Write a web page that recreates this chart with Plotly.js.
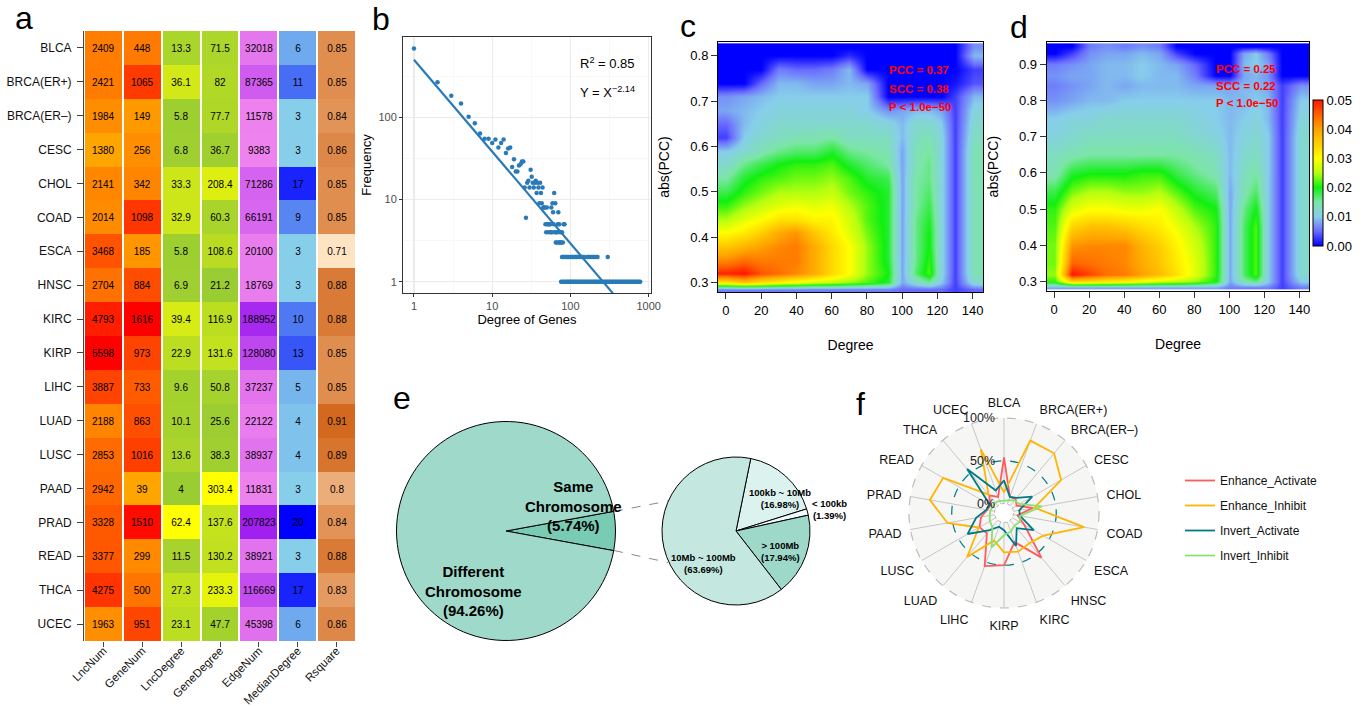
<!DOCTYPE html>
<html><head><meta charset="utf-8">
<script src="https://cdn.plot.ly/plotly-3.0.1.min.js"></script>
<style>html,body{margin:0;padding:0;background:#fff}#chart{width:1369px;height:706px}</style>
</head><body><div id="chart"></div>
<script>
const W = 1369, H = 706;
const X = p => p / W, Y = p => 1 - p / H;
const FONT = 'Liberation Sans, Arial, Helvetica, sans-serif';

// ---------- panel a data ----------
const cancers = ['BLCA','BRCA(ER+)','BRCA(ER–)','CESC','CHOL','COAD','ESCA','HNSC','KIRC','KIRP','LIHC','LUAD','LUSC','PAAD','PRAD','READ','THCA','UCEC'];
const heatCols = ['LncNum','GeneNum','LncDegree','GeneDegree','EdgeNum','MedianDegree','Rsquare'];
const LncNum = [2409,2421,1984,1380,2141,2014,3468,2704,4793,5598,3887,2188,2853,2942,3328,3377,4275,1963];
const GeneNum = [448,1065,149,256,342,1098,185,884,1616,973,733,863,1016,39,1510,299,500,951];
const LncDegree = [13.3,36.1,5.8,6.8,33.3,32.9,5.8,6.9,39.4,22.9,9.6,10.1,13.6,4,62.4,11.5,27.3,23.1];
const GeneDegree = [71.5,82,77.7,36.7,208.4,60.3,108.6,21.2,116.9,131.6,50.8,25.6,38.3,303.4,137.6,130.2,233.3,47.7];
const EdgeNum = [32018,87365,11578,9383,71286,66191,20100,18769,188952,128080,37237,22122,38937,11831,207823,38921,116669,45398];
const MedianDegree = [6,11,3,3,17,9,3,3,10,13,5,4,4,3,20,3,17,6];
const Rsquare = [0.85,0.85,0.84,0.86,0.85,0.85,0.71,0.88,0.88,0.85,0.85,0.91,0.89,0.8,0.84,0.88,0.83,0.86];
const heatScales = [['#FFA500','#FF0000'],['#FFA500','#FF0000'],['#9ACD32','#FFFF00'],['#9ACD32','#FFFF00'],['#EE82EE','#A020F0'],['#87CEEB','#0000FF'],['#FFE4C4','#D2691E']];

// ---------- panel b data ----------
const degMain = [1,2,3,4,5,6,7,8,9,10,11,12,13,14,15,16,17,18,19,20,21,22,23,24,25,26,27,28,29,30,31,32,33,34,35,36,37,38,39,40,41,42,43,44,45,46,47,48,49,50,51,52,53,54,55,56,57,58,59,60,61,62,63,64,65,66,67,68,69,70,71,72,73,74,75,76,78,80,82,84];
const freqMain = [690,268,184,148,102,85,64,55,55,49,54,43,49,54,37,42,43,25,31,22,22,26,27,29,29,14,6,16,17,14,23,19,16,14,16,17,12,16,14,9,16,12,9,14,8,8,8,5,4,8,5,5,4,5,5,4,8,4,9,7,5,12,4,9,3,4,3,4,5,7,3,5,3,4,3,3,4,3,5,5];
const degFreq2 = [78,81,85,88,92,95,99,103,107,111,116,121,126,131,137,143,150,165,172,180,190,200,212,222,300];
const degFreq1 = [76,79,83,86,90,93,97,100,104,108,112,116,120,125,130,135,140,146,151,157,163,170,176,183,190,198,205,213,222,230,239,249,258,268,279,290,301,313,325,338,351,365,379,394,409,425,442,459,477,496,515,535,556,578,600,624,648,673,700,727,755,780];
const fitX = [1, 350];
const fitY = [505, 0.72];

// ---------- panel c / d density (units of 0.001) ----------
const denX = [0,10,20,30,40,50,60,70,80,92,100,108,115,122,130,141];
const cY = [0.285,0.30,0.32,0.35,0.38,0.41,0.44,0.47,0.50,0.53,0.56,0.59,0.62,0.65,0.68,0.71,0.74,0.77,0.80,0.818];
const cZ = [
 [6,6,6,6,6,6,6,6,6,6,5,5,5,5,3,5],
 [32,36,33,31,29,27,26,24,22,19,8,12,15,10,3,12],
 [49,50,46,44,42,39,34,30,24,20,8,17,22,11,3,14],
 [42,44,43,43,43,39,34,30,24,19,8,16,21,11,3,14],
 [36,38,40,42,43,39,34,30,24,19,8,16,20,11,3,14],
 [30,32,35,39,41,36,32,28,23,19,8,16,20,11,3,14],
 [25,28,30,33,33,31,31,27,22,19,8,16,19,11,3,14],
 [21,24,26,28,29,28,29,25,22,19,8,15,18,11,3,14],
 [18,21,23,25,25,25,26,23,21,19,8,15,17,11,3,14],
 [15,19,21,22,23,23,24,22,19,18,8,15,16,11,3,14],
 [12,16,18,20,21,21,22,19,17,15,8,14,16,11,3,14],
 [10,12,14,16,17,17,19,16,15,14,8,14,15,11,3,14],
 [3,10,12,13,14,14,15,13,13,13,9,13,14,11,3,13],
 [5,9,11,12,12,12,12,12,12,11,9,12,12,10,3,12],
 [8,9,10,11,11,11,11,11,10,7,8,9,9,8,3,11],
 [7,8,9,10,10,10,10,10,10,0,0,0,0,0,3,9],
 [0,0,5,9,9,8,8,9,8,0,0,0,0,0,1,4],
 [0,0,0,6,5,5,6,9,0,0,0,0,0,0,0,3],
 [0,0,0,0,0,0,0,2,0,0,0,0,0,0,0,9],
 [0,0,0,0,0,0,0,0,0,0,0,0,0,0,0,7]
];
const dY = [0.285,0.30,0.32,0.35,0.40,0.45,0.50,0.55,0.60,0.65,0.70,0.75,0.80,0.84,0.87,0.90,0.93,0.948];
const dZ = [
 [8,8,8,8,8,8,8,8,8,8,6,6,6,6,3,6],
 [21,34,33,32,31,29,27,26,24,20,8,14,16,10,3,10],
 [24,50,47,44,43,40,37,33,28,21,8,17,22,10,3,12],
 [23,45,44,43,42,39,36,32,28,21,8,17,22,10,3,12],
 [23,41,42,42,42,38,35,31,27,21,8,17,22,10,3,12],
 [22,35,37,37,36,34,32,29,25,21,8,17,22,10,3,12],
 [21,28,30,30,29,29,30,26,22,20,8,16,20,10,3,12],
 [18,23,25,25,24,24,25,22,19,17,8,14,17,10,3,12],
 [14,19,20,20,20,21,21,18,16,14,9,13,15,10,3,12],
 [13,14,15,15,15,15,15,15,14,13,9,12,13,10,3,12],
 [11,12,13,13,13,13,13,13,12,11,9,11,12,10,3,12],
 [10,11,11,12,12,12,12,12,11,10,9,10,11,9,3,11],
 [7,8,9,9,10,10,10,10,10,10,9,9,10,9,3,10],
 [6,7,8,9,8,9,9,9,8,8,8,9,9,8,3,7],
 [7,8,8,9,9,10,9,9,6,0,0,8,9,7,0,0],
 [6,7,8,9,9,10,9,8,5,0,0,9,10,8,0,0],
 [0,3,7,8,8,9,8,3,0,0,0,8,10,6,0,0],
 [0,0,6,7,6,7,6,0,0,0,0,0,0,0,0,0]
];
const densTickVals = [0,10,20,30,40,50];
const densTickText = ['0.00','0.01','0.02','0.03','0.04','0.05'];

// ---------- panel e data ----------
const bigLabels = ['Same Chromosome','Different Chromosome'];
const bigValues = [5.74, 94.26];
const smallLabels = ['100kb ~ 10Mb','< 100kb','> 100Mb','10Mb ~ 100Mb'];
const smallValues = [16.98, 1.39, 17.94, 63.69];

// ---------- panel f data ----------
const radarNames = ['Enhance_Activate','Enhance_Inhibit','Invert_Activate','Invert_Inhibit'];
const radarColors = ['#FF5A5F','#FFB400','#007A87','#8CE071'];
const radarEA = [0.54,0.09,0.10,0.06,0.23,0.05,0.16,0.57,0.25,0.50,0.55,0.20,0.22,0.16,0.09,0.07,0.16,0.09];
const radarEI = [0.13,0.79,0.80,0.66,0.25,0.84,0.42,0.35,0.37,0.35,0.23,0.56,0.23,0.56,0.77,0.71,0.17,0.68];
const radarIA = [0.27,0.09,0.12,0.27,0.07,0.08,0.29,0.12,0.30,0.09,0.06,0.15,0.38,0.22,0.10,0.08,0.56,0.17];
const radarII = [0.03,0.05,0.08,0.10,0.34,0.08,0.10,0.08,0.12,0.15,0.32,0.10,0.08,0.06,0.05,0.04,0.05,0.04];
const radarSeries = [radarEA, radarEI, radarIA, radarII];

// ================= traces =================
const traces = [];
const heatVals = [LncNum,GeneNum,LncDegree,GeneDegree,EdgeNum,MedianDegree,Rsquare];
heatCols.forEach((c, i) => {
  const v = heatVals[i];
  traces.push({
    type:'heatmap', x:heatCols, y:cancers,
    z:v.map(a => heatCols.map((_, j) => j === i ? a : null)),
    text:v.map(a => heatCols.map((_, j) => j === i ? String(a) : ' ')),
    texttemplate:'%{text}', textfont:{size:10, color:'#000', family:FONT},
    colorscale:[[0, heatScales[i][0]],[1, heatScales[i][1]]],
    zmin:Math.min(...v), zmax:Math.max(...v), showscale:false, xgap:2, hoverongaps:false,
    xaxis:'x', yaxis:'y', hoverinfo:'skip', showlegend:false
  });
});
// carrier for the tick marks of panel a's column axis
traces.push({type:'scatter', mode:'none', x:[heatCols[0]], y:[cancers[0]], xaxis:'x5', yaxis:'y', showlegend:false, hoverinfo:'skip'});

const degAll = degMain.concat(degFreq2, degFreq1);
const freqAll = freqMain.concat(degFreq2.map(() => 2), degFreq1.map(() => 1));
traces.push({type:'scatter', mode:'markers', x:degAll, y:freqAll, marker:{size:4.5, color:'#2A7AB8'}, xaxis:'x2', yaxis:'y2', showlegend:false, hoverinfo:'skip'});
traces.push({type:'scatter', mode:'lines', x:fitX, y:fitY, line:{color:'#2A7AB8', width:2.2}, xaxis:'x2', yaxis:'y2', showlegend:false, hoverinfo:'skip'});

traces.push({type:'heatmap', x:denX, y:cY, z:cZ, coloraxis:'coloraxis', zsmooth:'best', xaxis:'x3', yaxis:'y3', hoverinfo:'skip', showlegend:false});
traces.push({type:'heatmap', x:denX, y:dY, z:dZ, coloraxis:'coloraxis', zsmooth:'best', xaxis:'x4', yaxis:'y4', hoverinfo:'skip', showlegend:false});

const bigC = [506, 531], bigR = 109.5, smC = [736, 531], smR = 74;
traces.push({type:'pie', labels:bigLabels, values:bigValues, sort:false, direction:'clockwise',
  rotation: 90 - bigValues[0] * 1.8,
  marker:{colors:['#79CBB4','#9FD9CA'], line:{color:'#000', width:1}}, textinfo:'none', hoverinfo:'skip', showlegend:false,
  domain:{x:[X(bigC[0]-bigR), X(bigC[0]+bigR)], y:[Y(bigC[1]+bigR), Y(bigC[1]-bigR)]}});
traces.push({type:'pie', labels:smallLabels, values:smallValues, sort:false, direction:'clockwise', rotation:11.5,
  marker:{colors:['#DCF2EF','#F2FAF9','#9ED8C9','#C4E8DF'], line:{color:'#000', width:1}}, textinfo:'none', hoverinfo:'skip', showlegend:false,
  domain:{x:[X(smC[0]-smR), X(smC[0]+smR)], y:[Y(smC[1]+smR), Y(smC[1]-smR)]}});

radarSeries.forEach((s, i) => {
  traces.push({type:'scatterpolar', mode:'lines', r:s.concat([s[0]]), theta:cancers.concat([cancers[0]]),
    line:{color:radarColors[i], width:1.8}, name:radarNames[i], legendgroup:radarNames[i], subplot:'polar', hoverinfo:'skip'});
});

// ================= layout =================
const rc = [1004, 513], RR = 95;
function circ(cx, cy, r, o) {
  return Object.assign({type:'circle', xref:'paper', yref:'paper', x0:X(cx-r), x1:X(cx+r), y0:Y(cy+r), y1:Y(cy-r), layer:'below'}, o);
}
const shapes = [
  circ(rc[0], rc[1], RR, {fillcolor:'#F6F6F5', line:{width:0}}),
  circ(rc[0], rc[1], RR*0.1, {fillcolor:'#FFFFFF', line:{color:'#AAAAAA', width:1, dash:'dot'}}),
  circ(rc[0], rc[1], RR*0.55, {line:{color:'#007A87', width:1.2, dash:'dash'}}),
  circ(rc[0], rc[1], RR, {line:{color:'#BBBBBB', width:1.2, dash:'dash'}}),
  {type:'line', xref:'paper', yref:'paper', x0:X(614), y0:Y(511.5), x1:X(668), y1:Y(501), line:{color:'#888', width:1, dash:'dash'}},
  {type:'line', xref:'paper', yref:'paper', x0:X(614), y0:Y(550.5), x1:X(668), y1:Y(562.5), line:{color:'#888', width:1, dash:'dash'}}
];

function ann(x, y, text, o) {
  o = o || {};
  return {xref:'paper', yref:'paper', x:X(x), y:Y(y), text:text, showarrow:false,
    xanchor:o.xanchor || 'center', yanchor:o.yanchor || 'middle', align:o.align || 'center',
    font:{family:FONT, size:o.size || 12, color:o.color || '#000'}};
}
const annotations = [
  ann(24,18,'a',{size:32}), ann(381,19,'b',{size:32}), ann(688,26,'c',{size:32}),
  ann(1019,27,'d',{size:32}), ann(402,398,'e',{size:32}), ann(860,404,'f',{size:32}),
  ann(578,63,'R<sup>2</sup> = 0.85',{xanchor:'left', size:13}),
  ann(578,92,'Y = X<sup>−2.14</sup>',{xanchor:'left', size:13}),
  ann(887,70,'<b>PCC = 0.37</b>',{xanchor:'left', size:11.5, color:'#FF0000'}),
  ann(887,89,'<b>SCC = 0.38</b>',{xanchor:'left', size:11.5, color:'#FF0000'}),
  ann(887,107,'<b>P < 1.0e−50</b>',{xanchor:'left', size:11.5, color:'#FF0000'}),
  ann(1214,69,'<b>PCC = 0.25</b>',{xanchor:'left', size:11.5, color:'#FF0000'}),
  ann(1214,86,'<b>SCC = 0.22</b>',{xanchor:'left', size:11.5, color:'#FF0000'}),
  ann(1214,103,'<b>P < 1.0e−50</b>',{xanchor:'left', size:11.5, color:'#FF0000'}),
  ann(573,506,'<b>Same<br>Chromosome<br>(5.74%)</b>',{size:15}),
  ann(473,591,'<b>Different<br>Chromosome<br>(94.26%)</b>',{size:15}),
  ann(780,498,'<b>100kb ~ 10Mb<br>(16.98%)</b>',{size:9.5}),
  ann(829,509,'<b>< 100kb<br>(1.39%)</b>',{size:9.5}),
  ann(780,551,'<b>> 100Mb<br>(17.94%)</b>',{size:9.5}),
  ann(703,563,'<b>10Mb ~ 100Mb<br>(63.69%)</b>',{size:9.5}),
  ann(997,rc[1]-RR,'100%',{xanchor:'right', size:12.5, color:'#222'}),
  ann(997,rc[1]-RR*0.55,'50%',{xanchor:'right', size:12.5, color:'#222'}),
  ann(997,rc[1]-RR*0.1,'0%',{xanchor:'right', size:12.5, color:'#222'})
];

const tf = (s, c) => ({family:FONT, size:s, color:c || '#000'});
const baseR = {showgrid:false, zeroline:false, showline:true, mirror:true, linecolor:'#000', linewidth:1,
  ticks:'outside', ticklen:6, tickcolor:'#333', tickfont:tf(13), automargin:false};

const layout = {
  width:W, height:H, margin:{l:0, r:0, t:0, b:0}, paper_bgcolor:'#fff', plot_bgcolor:'#fff',
  font:{family:FONT, color:'#000'}, showlegend:true,
  legend:{x:X(1180), xanchor:'left', y:Y(466), yanchor:'top', font:tf(12,'#111'), bgcolor:'rgba(0,0,0,0)', tracegroupgap:6},
  xaxis:{domain:[X(84),X(356)], anchor:'y', type:'category', categoryorder:'array', categoryarray:heatCols, range:[-0.5,6.5],
    showgrid:false, zeroline:false, showline:false, ticks:'', tickangle:-45, tickfont:tf(11.5,'#111'), automargin:false},
  xaxis5:{overlaying:'x', anchor:'y', side:'bottom', type:'category', categoryorder:'array', categoryarray:heatCols, range:[-0.5,6.5],
    showgrid:false, zeroline:false, showline:false, ticks:'outside', ticklen:5, tickcolor:'#444', showticklabels:false, automargin:false},
  yaxis:{domain:[Y(641),Y(31)], anchor:'x', type:'category', categoryorder:'array', categoryarray:cancers, range:[17.5,-0.5],
    showgrid:false, zeroline:false, showline:true, linecolor:'#444', linewidth:1, ticks:'outside', ticklen:6, tickcolor:'#444', tickfont:tf(12,'#111'),
    ticklabelstandoff:3, automargin:false},
  xaxis2:{domain:[X(403),X(651)], anchor:'y2', type:'log', range:[-0.14,3.03], tickmode:'array', tickvals:[1,10,100,1000], ticktext:['1','10','100','1000'],
    showgrid:true, gridcolor:'#EBEBEB', gridwidth:1.1, minor:{tickmode:'array', tickvals:[3.162,31.62,316.2], showgrid:true, gridcolor:'#F3F3F3', gridwidth:0.6, ticks:''},
    zeroline:false, showline:true, mirror:true, linecolor:'#333', linewidth:1, ticks:'outside', ticklen:3, tickcolor:'#333', tickfont:tf(11,'#4D4D4D'),
    title:{text:'Degree of Genes', font:tf(13), standoff:3}, automargin:false},
  yaxis2:{domain:[Y(293),Y(37)], anchor:'x2', type:'log', range:[-0.138,2.98], tickmode:'array', tickvals:[1,10,100], ticktext:['1','10','100'],
    showgrid:true, gridcolor:'#EBEBEB', gridwidth:1.1, minor:{tickmode:'array', tickvals:[3.162,31.62,316.2], showgrid:true, gridcolor:'#F3F3F3', gridwidth:0.6, ticks:''},
    zeroline:false, showline:true, mirror:true, linecolor:'#333', linewidth:1, ticks:'outside', ticklen:3, tickcolor:'#333', tickfont:tf(11,'#4D4D4D'),
    title:{text:'Frequency', font:tf(13), standoff:3}, automargin:false},
  xaxis3:Object.assign({}, baseR, {domain:[X(718),X(983)], anchor:'y3', range:[-4.5,145.9], tickmode:'array', tickvals:[0,20,40,60,80,100,120,140],
    title:{text:'Degree', font:tf(14), standoff:23}}),
  yaxis3:Object.assign({}, baseR, {domain:[Y(292),Y(42)], anchor:'x3', range:[0.2795,0.83], tickmode:'array', tickvals:[0.3,0.4,0.5,0.6,0.7,0.8], tickformat:'.1f',
    title:{text:'abs(PCC)', font:tf(14), standoff:17}}),
  xaxis4:Object.assign({}, baseR, {domain:[X(1046.7),X(1309.3)], anchor:'y4', range:[-4.3,145.7], tickmode:'array', tickvals:[0,20,40,60,80,100,120,140],
    title:{text:'Degree', font:tf(14), standoff:23}}),
  yaxis4:Object.assign({}, baseR, {domain:[Y(291),Y(42.3)], anchor:'x4', range:[0.2744,0.96], tickmode:'array', tickvals:[0.3,0.4,0.5,0.6,0.7,0.8,0.9], tickformat:'.1f',
    title:{text:'abs(PCC)', font:tf(14), standoff:17}}),
  coloraxis:{cmin:0, cmax:50,
    colorscale:[[0,'#0000FF'],[0.1,'#6A6AFF'],[0.2,'#87CEEB'],[0.3,'#7CE6A6'],[0.4,'#10F010'],[0.5,'#B4FF10'],[0.6,'#FFFF00'],[0.7,'#FFD000'],[0.8,'#FFA200'],[0.9,'#FF6200'],[1,'#FF1400']],
    colorbar:{x:X(1313), xanchor:'left', y:Y(173), yanchor:'middle', len:146, lenmode:'pixels', thickness:10, thicknessmode:'pixels',
      outlinewidth:1, outlinecolor:'#000', tickmode:'array', tickvals:densTickVals, ticktext:densTickText, tickfont:tf(13), ticks:'', xpad:0, ypad:0}},
  polar:{domain:{x:[X(rc[0]-RR), X(rc[0]+RR)], y:[Y(rc[1]+RR), Y(rc[1]-RR)]}, hole:0.1, bgcolor:'rgba(0,0,0,0)',
    radialaxis:{range:[0,1], showline:false, showticklabels:false, showgrid:false, ticks:''},
    angularaxis:{type:'category', categoryorder:'array', categoryarray:cancers, direction:'clockwise', rotation:90, showline:false,
      showgrid:true, gridcolor:'#C6C6C6', gridwidth:1, ticks:'outside', ticklen:6, tickcolor:'rgba(0,0,0,0)', tickfont:tf(12.5,'#111')}},
  shapes:shapes, annotations:annotations
};

Plotly.newPlot('chart', traces, layout, {displayModeBar:false, staticPlot:true});
</script></body></html>
